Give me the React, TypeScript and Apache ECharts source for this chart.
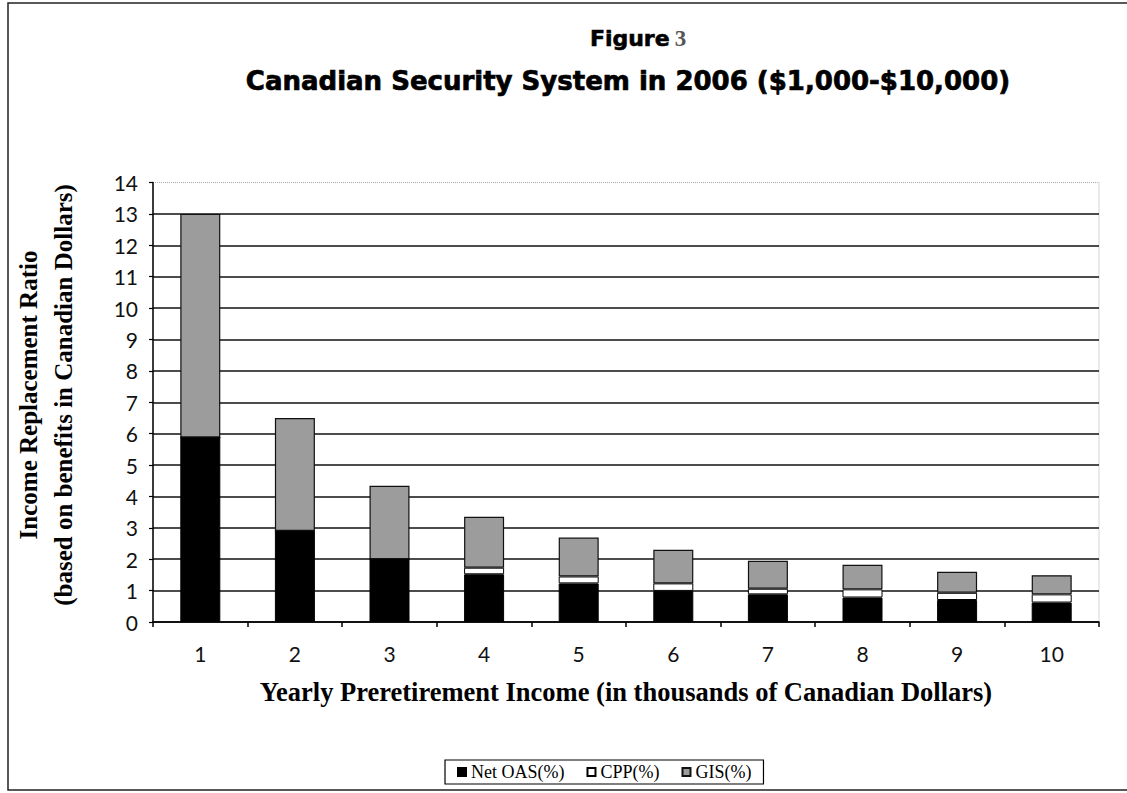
import React, { useEffect, useRef } from "react";
import * as echarts from "echarts";

// Yearly preretirement income, in thousands of Canadian dollars
const incomes = ["1", "2", "3", "4", "5", "6", "7", "8", "9", "10"];

// Income replacement ratio components, stacked from the bottom
const netOAS = [5.88, 2.9, 2.0, 1.52, 1.23, 0.99, 0.88, 0.78, 0.7, 0.62];
const cpp = [0, 0, 0, 0.21, 0.22, 0.24, 0.18, 0.26, 0.23, 0.26];
const gis = [7.12, 3.6, 2.34, 1.62, 1.24, 1.07, 0.89, 0.78, 0.67, 0.61];

const yTicks = { min: 0, max: 14, interval: 1 };

const serif = "'Liberation Serif', 'Times New Roman', serif";
const sans = "'DejaVu Sans', sans-serif";
const tickFont = "Lato, sans-serif";

export default function App() {
  const ref = useRef<HTMLDivElement>(null);

  useEffect(() => {
    if (!ref.current) return;
    const chart = echarts.init(ref.current, null, { renderer: "svg" });

    // one colour per split line from 0 to 14; the top one is left to the grid border
    const splitColors = Array.from({ length: 15 }, (_, i) => (i === 14 ? "transparent" : "#111"));

    chart.setOption({
      animation: false,
      backgroundColor: "#fff",
      title: [
        {
          text: "{a|Figure} {b|3}",
          left: 633,
          textAlign: "center",
          top: 22,
          textStyle: {
            rich: {
              a: {
                fontFamily: sans,
                fontWeight: "bold",
                fontSize: 22,
                color: "#000",
                textBorderColor: "#000",
                textBorderWidth: 0.6,
              },
              b: { fontFamily: serif, fontSize: 23, color: "#555" },
            },
          },
        },
        {
          text: "Canadian Security System in 2006 ($1,000-$10,000)",
          left: 623,
          textAlign: "center",
          top: 63,
          textStyle: {
            fontFamily: sans,
            fontWeight: "bold",
            fontSize: 26,
            color: "#000",
            textBorderColor: "#000",
            textBorderWidth: 0.7,
          },
        },
      ],
      legend: {
        left: 445,
        top: 760,
        padding: [3, 12, 3, 12],
        itemGap: 22,
        itemWidth: 8,
        itemHeight: 8,
        borderColor: "#000",
        borderWidth: 1.2,
        textStyle: { fontFamily: serif, fontSize: 18, color: "#000" },
        data: [
          { name: "Net OAS(%)", icon: "rect" },
          { name: "CPP(%)", icon: "rect" },
          { name: "GIS(%)", icon: "rect" },
        ],
      },
      grid: {
        left: 153,
        right: 28,
        top: 182.5,
        bottom: 171,
        show: true,
        borderColor: "#aaa",
        borderWidth: 1,
        borderType: "dotted",
      },
      xAxis: {
        type: "category",
        data: incomes,
        axisLine: { lineStyle: { color: "#000", width: 1.5 } },
        axisTick: { show: true, length: 5, lineStyle: { color: "#000", width: 1.5 } },
        axisLabel: { fontFamily: tickFont, fontSize: 21, color: "#111", margin: 21 },
        name: "Yearly Preretirement Income (in thousands of Canadian Dollars)",
        nameLocation: "middle",
        nameGap: 56,
        nameTextStyle: { fontFamily: serif, fontWeight: "bold", fontSize: 26.5, color: "#000" },
      },
      yAxis: {
        type: "value",
        min: yTicks.min,
        max: yTicks.max,
        interval: yTicks.interval,
        axisLine: { show: true, lineStyle: { color: "#000", width: 1.5 } },
        axisTick: { show: true, length: 4, lineStyle: { color: "#000", width: 1.2 } },
        axisLabel: { fontFamily: tickFont, fontSize: 21, color: "#111", margin: 15 },
        splitLine: { show: true, lineStyle: { color: splitColors, width: 1.5 } },
      },
      graphic: [
        {
          type: "rect",
          shape: { x: 8, y: 3, width: 1130, height: 787 },
          style: { fill: "none", stroke: "#222", lineWidth: 1.5 },
          silent: true,
          z: -1,
        },
        {
          type: "text",
          x: 45.5,
          y: 395,
          rotation: Math.PI / 2,
          style: {
            text: "Income Replacement Ratio\n(based on benefits in Canadian Dollars)",
            fontFamily: serif,
            fontWeight: "bold",
            fontSize: 25,
            lineHeight: 35,
            fill: "#000",
            align: "center",
            verticalAlign: "middle",
          },
        },
      ],
      series: [
        {
          name: "Net OAS(%)",
          type: "bar",
          stack: "total",
          barWidth: 40,
          data: netOAS,
          itemStyle: { color: "#000", borderColor: "#000", borderWidth: 1 },
        },
        {
          name: "CPP(%)",
          type: "bar",
          stack: "total",
          barWidth: 40,
          data: cpp,
          itemStyle: { color: "#fff", borderColor: "#000", borderWidth: 1 },
        },
        {
          name: "GIS(%)",
          type: "bar",
          stack: "total",
          barWidth: 40,
          data: gis,
          itemStyle: { color: "#9c9c9c", borderColor: "#111", borderWidth: 1.2 },
        },
      ],
    });

    return () => chart.dispose();
  }, []);

  return (
    <div
      ref={ref}
      style={{ position: "fixed", left: 0, top: 0, width: 1127, height: 793 }}
    />
  );
}
